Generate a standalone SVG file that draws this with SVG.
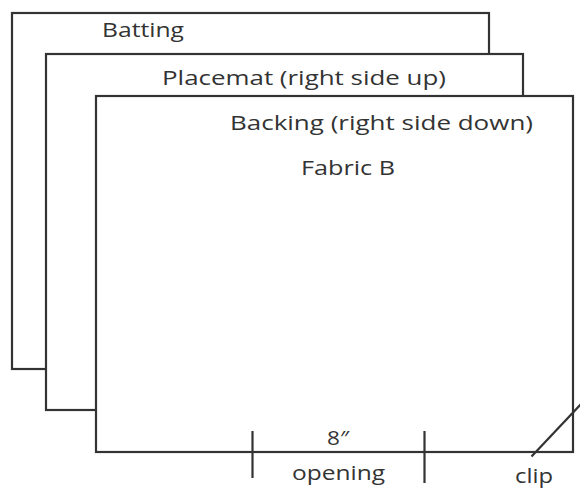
<svg xmlns="http://www.w3.org/2000/svg" width="580" height="489" viewBox="0 0 580 489">
  <style>
    .layer { fill: #ffffff; stroke: #333333; stroke-width: 2.2; }
    .mark { stroke: #333333; stroke-width: 2.2; fill: none; }
    .label { font-family: "Open Sans", "Noto Sans", "DejaVu Sans", sans-serif; font-size: 20.5px; fill: #333333; }
  </style>
  <rect width="580" height="489" fill="#ffffff"/>

  <!-- Batting (bottom layer) -->
  <g id="batting">
    <rect class="layer" x="12" y="13" width="477" height="356"/>
    <text class="label" x="102" y="37" textLength="82" lengthAdjust="spacingAndGlyphs">Batting</text>
  </g>

  <!-- Placemat (middle layer) -->
  <g id="placemat">
    <rect class="layer" x="46" y="54" width="477" height="356"/>
    <text class="label" x="162" y="85" textLength="284" lengthAdjust="spacingAndGlyphs">Placemat (right side up)</text>
  </g>

  <!-- Backing (top layer) -->
  <g id="backing">
    <rect class="layer" x="96" y="96" width="477" height="356"/>
    <text class="label" x="230" y="130" textLength="303" lengthAdjust="spacingAndGlyphs">Backing (right side down)</text>
    <text class="label" x="301" y="175" textLength="94" lengthAdjust="spacingAndGlyphs">Fabric B</text>
  </g>

  <!-- Opening marks and corner clip -->
  <g id="connectors">
    <line class="mark" x1="252.5" y1="431" x2="252.5" y2="478"/>
    <line class="mark" x1="424.5" y1="431" x2="424.5" y2="483"/>
    <line class="mark" x1="531.5" y1="456.5" x2="581" y2="404"/>
  </g>

  <g id="opening-label">
    <text class="label" x="327" y="445" textLength="22" lengthAdjust="spacingAndGlyphs">8″</text>
    <text class="label" x="292" y="480" textLength="93" lengthAdjust="spacingAndGlyphs">opening</text>
  </g>

  <g id="clip-label">
    <text class="label" x="515" y="483" textLength="38" lengthAdjust="spacingAndGlyphs">clip</text>
  </g>
</svg>
